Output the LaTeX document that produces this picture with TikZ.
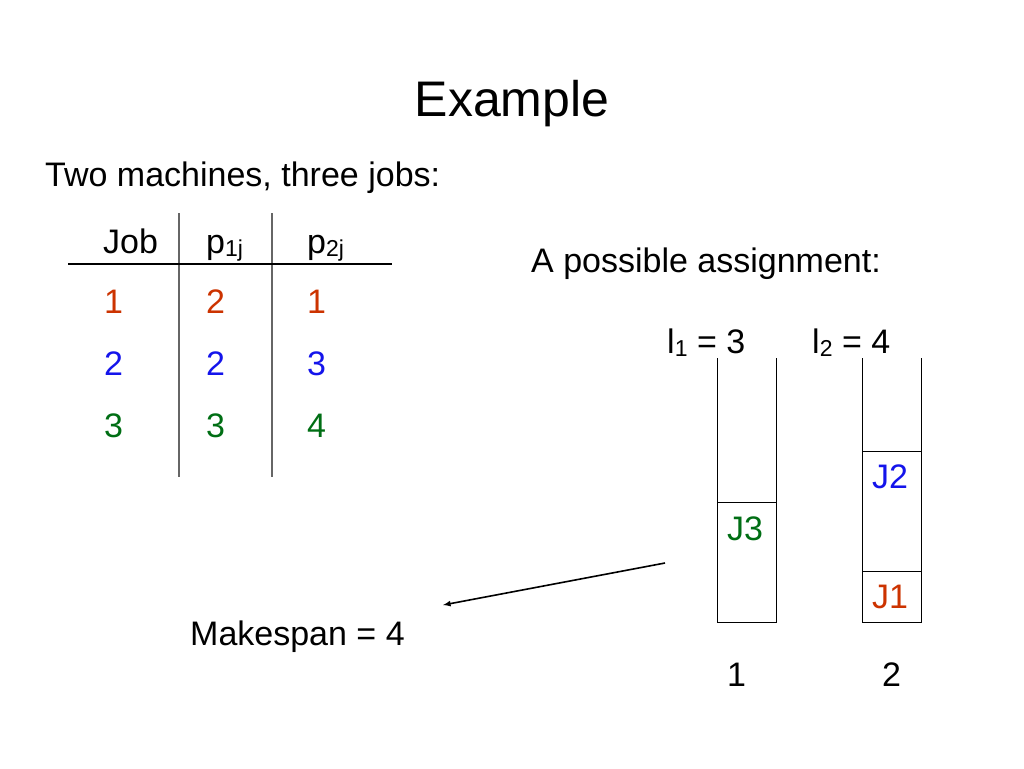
\documentclass[tikz,border=0pt]{standalone}
\usepackage{fontspec}
\setmainfont{Liberation Sans}
\usepackage{tikz}
\usetikzlibrary{positioning, arrows}

\definecolor{jobred}{RGB}{204,51,0}
\definecolor{jobblue}{RGB}{20,20,235}
\definecolor{jobgreen}{RGB}{0,110,20}
\newcommand{\lowtxt}[1]{\raisebox{-3pt}{\fontsize{23}{25}\selectfont #1}}

\begin{document}
\begin{tikzpicture}[x=1pt, y=-1pt]
    % settings for this picture
    \tikzset{
      >=stealth',
      txt/.style={anchor=base west, inner sep=0pt, font=\fontsize{34}{40}\selectfont},
      title/.style={anchor=base, inner sep=0pt, font=\fontsize{50}{60}\selectfont},
      grid line/.style={line width=1.3pt, black!60},
      head line/.style={line width=1.3pt, black},
      machine/.style={line width=1pt, black},
    }
    \useasboundingbox (0,0) rectangle (1024,768);

    % headings
    \node[title] (title) at (512,116) {Example};
    \node[txt] (intro) at (45,186) {Two machines, three jobs:};
    \node[txt] (assign) at (531,272) {A possible assignment:};

    % table
    \draw[grid line] (179,213) -- (179,477);
    \draw[grid line] (272,213) -- (272,477);
    \draw[head line] (68,264) -- (392,264);
    \node[txt] (job) at (103,253) {Job};
    \node[txt] (p1) at (206,253) {p\lowtxt{1j}};
    \node[txt] (p2) at (307,253) {p\lowtxt{2j}};
    \foreach \j/\py/\pa/\pb/\col in {1/313/2/1/jobred, 2/375/2/3/jobblue, 3/437/3/4/jobgreen} {
      \node[txt, text=\col] (job\j) at (104,\py) {\j};
      \node[txt, text=\col] (pa\j) at (206,\py) {\pa};
      \node[txt, text=\col] (pb\j) at (307,\py) {\pb};
    }

    % machines
    \draw[machine] (717,358) -- (717,622) -- (776,622) -- (776,358);
    \draw[machine] (717,502) -- (776,502);
    \draw[machine] (862,358) -- (862,622) -- (921,622) -- (921,358);
    \draw[machine] (862,451) -- (921,451);
    \draw[machine] (862,571) -- (921,571);

    \node[txt] (l1) at (667,353) {l\lowtxt{1} = 3};
    \node[txt] (l2) at (812,353) {l\lowtxt{2} = 4};
    \node[txt, text=jobgreen] (j3) at (727,540) {J3};
    \node[txt, text=jobblue] (j2) at (872,488) {J2};
    \node[txt, text=jobred] (j1) at (872,608) {J1};
    \node[txt] (m1) at (727,686) {1};
    \node[txt] (m2) at (882,686) {2};

    % makespan
    \node[txt] (span) at (190,645) {Makespan = 4};
    \coordinate (from) at (665,563);
    \coordinate (to) at (443,605);
    \draw[-latex, line width=1.6pt] (from) -- (to);

\end{tikzpicture}
\end{document}
